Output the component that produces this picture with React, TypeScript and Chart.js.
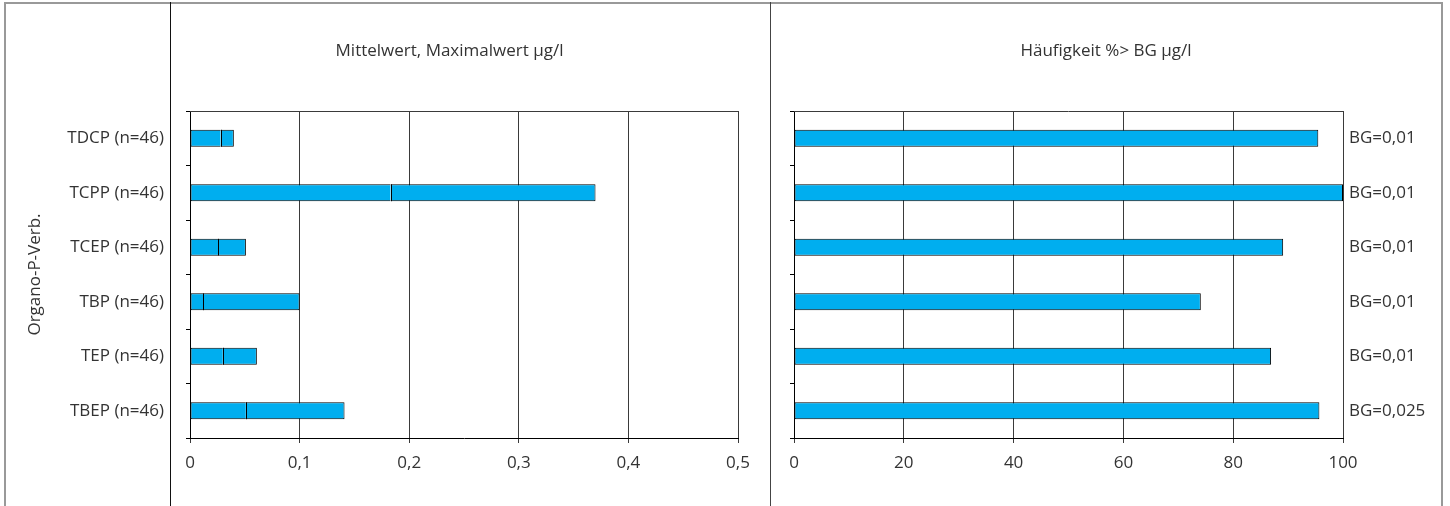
import React, { useEffect, useRef } from 'react';
import { Chart, registerables } from 'chart.js';

Chart.register(...registerables);

// ---- data ----
const categories = ['TDCP (n=46)', 'TCPP (n=46)', 'TCEP (n=46)', 'TBP (n=46)', 'TEP (n=46)', 'TBEP (n=46)'];
const meanValues = [0.028, 0.183, 0.026, 0.012, 0.030, 0.051];
const maxValues = [0.040, 0.370, 0.051, 0.100, 0.061, 0.141];
const frequencyValues = [95.5, 100, 89.1, 74.1, 86.9, 95.7];
const detectionLimitLabels = ['BG=0,01', 'BG=0,01', 'BG=0,01', 'BG=0,01', 'BG=0,01', 'BG=0,025'];
const leftTickLabels = ['0', '0,1', '0,2', '0,3', '0,4', '0,5'];
const rightTickLabels = ['0', '20', '40', '60', '80', '100'];
const leftTitle = 'Mittelwert, Maximalwert µg/l';
const rightTitle = 'Häufigkeit %> BG µg/l';
const axisTitle = 'Organo-P-Verb.';

// ---- styles ----
const FONT_FAMILY = "'Open Sans', 'Noto Sans', sans-serif";
const FONT = { family: FONT_FAMILY, size: 17 };
const TEXT = '#333333';
const BAR = '#00AEEF';
const GRID = '#3a3a3a';

const panelDecor = {
  id: 'panelDecor',
  beforeDatasetsDraw(chart: any) {
    const { ctx, chartArea } = chart;
    ctx.save();
    ctx.strokeStyle = GRID;
    ctx.lineWidth = 1;
    const y = Math.round(chartArea.top) + 0.5;
    ctx.beginPath();
    ctx.moveTo(chartArea.left, y);
    ctx.lineTo(chartArea.right, y);
    ctx.stroke();
    ctx.restore();
  },
  afterDatasetsDraw(chart: any, _args: any, opts: any) {
    if (!opts.meanMarker) return;
    const { ctx } = chart;
    const meta = chart.getDatasetMeta(0);
    ctx.save();
    ctx.strokeStyle = '#000';
    ctx.lineWidth = 1;
    meta.data.forEach((bar: any) => {
      const x = Math.round(bar.x) + 0.5;
      const h = bar.height / 2;
      ctx.beginPath();
      ctx.moveTo(x, bar.y - h);
      ctx.lineTo(x, bar.y + h);
      ctx.stroke();
    });
    ctx.restore();
  },
  afterDraw(chart: any, _args: any, opts: any) {
    const { ctx } = chart;
    ctx.save();
    ctx.fillStyle = TEXT;
    ctx.font = `${FONT.size}px ${FONT_FAMILY}`;
    ctx.textAlign = 'center';
    ctx.textBaseline = 'alphabetic';
    ctx.fillText(opts.text, opts.x, opts.y);
    ctx.restore();
  },
};

export default function App() {
  const leftRef = useRef<HTMLCanvasElement>(null);
  const rightRef = useRef<HTMLCanvasElement>(null);

  useEffect(() => {
    const left = new Chart(leftRef.current as HTMLCanvasElement, {
      type: 'bar',
      data: {
        labels: categories,
        datasets: [
          {
            label: 'Mittelwert',
            data: meanValues,
            backgroundColor: BAR,
            borderColor: '#000',
            borderWidth: { top: 1, bottom: 1, left: 1, right: 0 },
            borderSkipped: false,
            barPercentage: 0.31,
            categoryPercentage: 1,
          },
          {
            label: 'Maximalwert',
            data: maxValues.map((m, i) => m - meanValues[i]),
            backgroundColor: BAR,
            borderColor: '#000',
            borderWidth: { top: 1, bottom: 1, left: 0, right: 1 },
            borderSkipped: false,
            barPercentage: 0.31,
            categoryPercentage: 1,
          },
        ],
      },
      options: {
        indexAxis: 'y',
        animation: false,
        responsive: false,
        maintainAspectRatio: false,
        layout: { padding: { top: 111, right: 32, left: 0, bottom: 0 } },
        plugins: {
          legend: { display: false },
          tooltip: { enabled: false },
          panelDecor: { text: leftTitle, x: 449.5, y: 56, meanMarker: true },
        } as any,
        scales: {
          x: {
            type: 'linear',
            stacked: true,
            min: 0,
            max: 0.5,
            ticks: {
              stepSize: 0.1,
              font: FONT,
              color: TEXT,
              padding: 10,
              maxRotation: 0,
              callback: (_v: any, i: number) => leftTickLabels[i],
            },
            grid: { color: GRID, tickLength: 5, tickColor: GRID },
            border: { color: '#000' },
            afterFit: (s: any) => { s.height = 68; },
          },
          y: {
            type: 'category',
            stacked: true,
            grid: { drawOnChartArea: false, tickLength: 4, color: '#000', offset: true },
            border: { color: '#000' },
            ticks: { font: FONT, color: TEXT, padding: 22 },
            title: {
              display: true,
              text: axisTitle,
              font: FONT,
              color: TEXT,
              padding: { top: 25, bottom: 0 },
            },
            afterFit: (s: any) => { s.width = 190; },
          },
        },
      } as any,
      plugins: [panelDecor],
    });

    const right = new Chart(rightRef.current as HTMLCanvasElement, {
      type: 'bar',
      data: {
        labels: categories,
        datasets: [
          {
            label: 'Häufigkeit',
            data: frequencyValues,
            yAxisID: 'y',
            backgroundColor: BAR,
            borderColor: '#000',
            borderWidth: 1,
            borderSkipped: false,
            barPercentage: 0.31,
            categoryPercentage: 1,
          },
        ],
      },
      options: {
        indexAxis: 'y',
        animation: false,
        responsive: false,
        maintainAspectRatio: false,
        layout: { padding: { top: 111, right: 0, left: 0, bottom: 0 } },
        plugins: {
          legend: { display: false },
          tooltip: { enabled: false },
          panelDecor: { text: rightTitle, x: 336, y: 56, meanMarker: false },
        } as any,
        scales: {
          x: {
            type: 'linear',
            min: 0,
            max: 100,
            ticks: {
              stepSize: 20,
              font: FONT,
              color: TEXT,
              padding: 10,
              maxRotation: 0,
              callback: (_v: any, i: number) => rightTickLabels[i],
            },
            grid: { color: GRID, tickLength: 5, tickColor: GRID },
            border: { color: '#000' },
            afterFit: (s: any) => { s.height = 68; },
          },
          y: {
            type: 'category',
            position: 'left',
            grid: { drawOnChartArea: false, tickLength: 4, color: '#000', offset: true },
            border: { color: '#000' },
            ticks: { display: false },
            afterFit: (s: any) => { s.width = 24; },
          },
          y2: {
            type: 'category',
            position: 'right',
            labels: detectionLimitLabels,
            offset: true,
            grid: { display: false, drawTicks: false, drawOnChartArea: false },
            border: { display: false },
            ticks: { font: FONT, color: TEXT, padding: 6 },
            afterFit: (s: any) => { s.width = 107; },
          },
        },
      } as any,
      plugins: [panelDecor],
    });

    return () => {
      left.destroy();
      right.destroy();
    };
  }, []);

  const line = (style: React.CSSProperties) => (
    <div style={{ position: 'absolute', zIndex: 2, ...style }} />
  );

  return (
    <div style={{ position: 'absolute', left: 0, top: 0, width: 1450, height: 506, background: '#fff', overflow: 'hidden' }}>
      <canvas ref={leftRef} width={770} height={506} style={{ position: 'absolute', left: 0, top: 0, width: 770, height: 506 }} />
      <canvas ref={rightRef} width={680} height={506} style={{ position: 'absolute', left: 770, top: 0, width: 680, height: 506 }} />
      {line({ left: 4, top: 2, width: 1439, height: 2, background: '#999' })}
      {line({ left: 4, top: 2, width: 2, height: 504, background: '#999' })}
      {line({ left: 1441, top: 2, width: 2, height: 504, background: '#999' })}
      {line({ left: 170, top: 2, width: 1, height: 504, background: '#111' })}
      {line({ left: 770, top: 2, width: 1, height: 504, background: '#444' })}
    </div>
  );
}
